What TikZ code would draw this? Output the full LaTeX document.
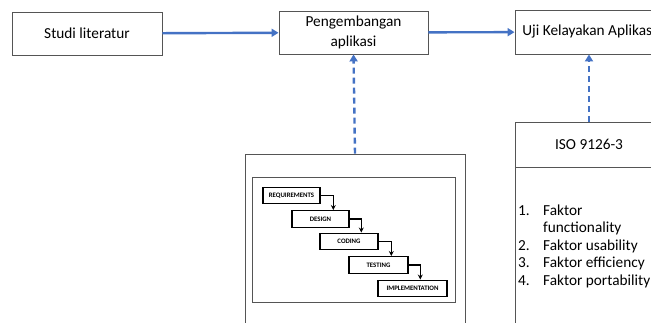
\documentclass[tikz,border=0pt]{standalone}
\usepackage{fontspec}
\setmainfont{Carlito}
\usepackage{xcolor}
\usepackage{tikz}
\usetikzlibrary{arrows.meta}
\definecolor{officeblue}{RGB}{68, 114, 196}
\definecolor{boxgray}{RGB}{85, 85, 85}

\begin{document}
\begin{tikzpicture}[x=1pt, y=-1pt,
        main/.style = {draw=boxgray, line width=0.9pt, minimum width=149pt, minimum height=43pt, align=center, font=\fontsize{15.3}{20}\selectfont},
        flow/.style = {draw=officeblue, line width=2.4pt, -{Triangle[length=7pt, width=8pt]}},
        link/.style = {flow, dash pattern=on 6pt off 4pt},
        stepbox/.style = {draw=black, line width=1.4pt, minimum height=16.5pt, inner sep=1pt, font=\fontsize{6.8}{8}\selectfont\bfseries},
        steparrow/.style = {draw=black, line width=1.2pt, -{Stealth[length=5pt, width=5pt]}},
        item/.style = {anchor=base west, inner sep=0pt, font=\fontsize{15.3}{20}\selectfont}]
        \useasboundingbox (0,0) rectangle (651,323);
        \clip (0,0) rectangle (651,323);
        \node[main, minimum width=150pt] (studi) at (87, 33.5) {Studi literatur};
        \node[main] (peng) at (353.5, 32.5) {Pengembangan\\aplikasi};
        \node[main, minimum width=148pt, minimum height=44pt] (uji) at (589, 32) {Uji Kelayakan Aplikasi};
        \draw[flow] (studi) -- (peng);
        \draw[flow] (peng) -- (uji);

        \node[draw=boxgray, line width=0.9pt, minimum width=220pt, minimum height=186pt] (wf) at (355, 247) {};
        \node[draw=boxgray, line width=1pt, minimum width=203pt, minimum height=125pt] (frame) at (353.5, 240.5) {};
        \node[stepbox, minimum width=57pt] (req) at (291.5, 195.5) {REQUIREMENTS};
        \node[stepbox, minimum width=57pt] (des) at (320.5, 219) {DESIGN};
        \node[stepbox, minimum width=58pt] (cod) at (349, 241.5) {CODING};
        \node[stepbox, minimum width=59pt] (tes) at (378.5, 265) {TESTING};
        \node[stepbox, minimum width=69pt] (imp) at (412.5, 288.5) {IMPLEMENTATION};
        \draw[steparrow] (req.east) -| ([xshift=42pt]des.north west);
        \draw[steparrow] (des.east) -| ([xshift=42pt]cod.north west);
        \draw[steparrow] (cod.east) -| ([xshift=43pt]tes.north west);
        \draw[steparrow] (tes.east) -| ([xshift=43pt]imp.north west);
        \draw[link] (wf.north) -- (peng.south);

        \node[main, minimum width=148pt, minimum height=45pt] (iso) at (589, 144.5) {ISO 9126-3};
        \node[draw=boxgray, line width=0.9pt, minimum width=148pt, minimum height=180pt, anchor=north] (isobody) at (iso.south) {};
        \draw[link] (iso.north) -- (uji.south);
        \node[item] (n1) at (518, 216) {1.};
        \node[item] (t1) at (543, 216) {Faktor};
        \node[item] (t1b) at (543, 233) {functionality};
        \node[item] (n2) at (518, 251) {2.};
        \node[item] (t2) at (543, 251) {Faktor usability};
        \node[item] (n3) at (518, 268) {3.};
        \node[item] (t3) at (543, 268) {Faktor efficiency};
        \node[item] (n4) at (518, 286) {4.};
        \node[item] (t4) at (543, 286) {Faktor portability};
\end{tikzpicture}
\end{document}
